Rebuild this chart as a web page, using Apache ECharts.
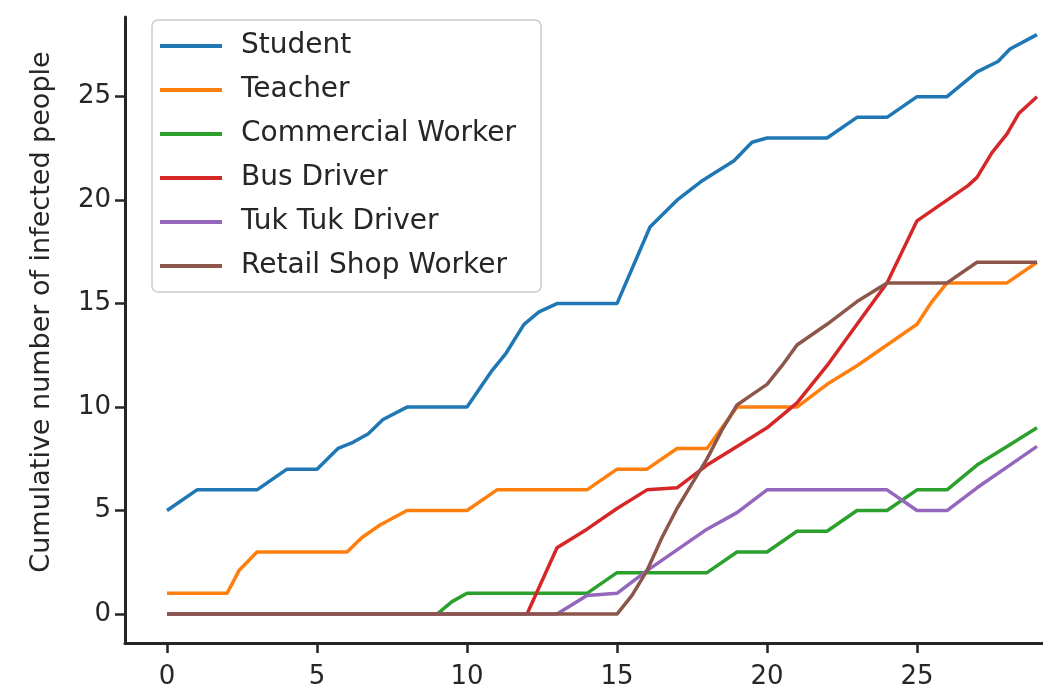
<!DOCTYPE html>
<html>
<head>
<meta charset="utf-8">
<script src="https://cdn.jsdelivr.net/npm/echarts@6/dist/echarts.min.js"></script>
<style>html,body{margin:0;padding:0;background:#fff;}#chart{width:1043px;height:694px;}</style>
</head>
<body>
<div id="chart"></div>
<script>
const seriesNames = ['Student', 'Teacher', 'Commercial Worker', 'Bus Driver', 'Tuk Tuk Driver', 'Retail Shop Worker'];
const xTicks = [0, 5, 10, 15, 20, 25];
const yTicks = [0, 5, 10, 15, 20, 25];

const student = [[0,5],[1,6],[2,6],[3,6],[4,7],[5,7],[5.7,8],[6.2,8.3],[6.7,8.7],[7.2,9.4],[8,10],[9,10],[10,10],[10.8,11.7],[11.3,12.6],[11.9,14],[12.4,14.6],[13,15],[14,15],[15,15],[16.1,18.7],[17,20],[17.8,20.9],[18.9,21.9],[19.5,22.8],[20,23],[21,23],[22,23],[23,24],[24,24],[25,25],[26,25],[27,26.2],[27.7,26.7],[28.1,27.3],[29,28]];
const teacher = [[0,1],[1,1],[2,1],[2.4,2.1],[3,3],[4,3],[5,3],[6,3],[6.5,3.7],[7.1,4.3],[8,5],[9,5],[10,5],[11,6],[12,6],[13,6],[14,6],[15,7],[16,7],[17,8],[18,8],[18.6,9.2],[19,10],[20,10],[21,10],[22,11.1],[23,12],[24,13],[25,14],[25.5,15.1],[26,16],[27,16],[28,16],[29,17]];
const commercial = [[0,0],[9,0],[9.5,0.6],[10,1],[11,1],[12,1],[13,1],[14,1],[15,2],[16,2],[17,2],[18,2],[19,3],[20,3],[21,4],[22,4],[23,5],[24,5],[25,6],[26,6],[27,7.2],[28,8.1],[29,9]];
const busDriver = [[0,0],[12,0],[13,3.2],[14,4.1],[15,5.1],[16,6],[17,6.1],[18,7.2],[19,8.1],[20,9],[20.5,9.6],[21,10.2],[22,12],[23,14],[24,16],[25,19],[26,20],[26.7,20.7],[27,21.1],[27.5,22.3],[28,23.2],[28.4,24.2],[29,25]];
const tukTuk = [[0,0],[13,0],[14,0.9],[15,1],[16,2.1],[17,3.1],[18,4.1],[19,4.9],[20,6],[21,6],[22,6],[23,6],[24,6],[25,5],[26,5],[27,6.1],[28,7.1],[29,8.1]];
const retail = [[0,0],[15,0],[15.5,0.9],[16,2.1],[16.5,3.7],[17,5.1],[17.5,6.3],[18,7.5],[18.5,8.9],[19,10.1],[19.5,10.6],[20,11.1],[20.5,12],[21,13],[22,14],[23,15.1],[24,16],[25,16],[26,16],[27,17],[28,17],[29,17]];

const seriesData = [student, teacher, commercial, busDriver, tukTuk, retail];
const colors = ['#1f77b4', '#ff7f0e', '#2ca02c', '#d62728', '#9467bd', '#8c564b'];

const chart = echarts.init(document.getElementById('chart'), null, {renderer: 'canvas'});
const font = 'DejaVu Sans';
const axisCol = '#262626';

chart.setOption({
  backgroundColor: '#ffffff',
  animation: false,
  color: colors,
  grid: {left: 125, right: 0, top: 17, bottom: 51},
  xAxis: {
    type: 'value', min: -1.4, max: 29.2,
    splitLine: {show: false},
    axisLine: {show: true, onZero: false, lineStyle: {color: axisCol, width: 3}},
    axisTick: {show: true, customValues: xTicks, length: 10, lineStyle: {color: axisCol, width: 2.5}},
    axisLabel: {customValues: xTicks, color: '#262626', fontFamily: font, fontSize: 26, margin: 21}
  },
  yAxis: {
    type: 'value', min: -1.4, max: 28.85,
    splitLine: {show: false},
    axisLine: {show: true, onZero: false, lineStyle: {color: axisCol, width: 3}},
    axisTick: {show: true, customValues: yTicks, length: 10, lineStyle: {color: axisCol, width: 2.5}},
    axisLabel: {customValues: yTicks, color: '#262626', fontFamily: font, fontSize: 26, margin: 14}
  },
  legend: {
    show: true, orient: 'vertical', left: 152, top: 20,
    data: seriesNames,
    icon: 'rect',
    itemWidth: 62, itemHeight: 4, itemGap: 10,
    padding: [9, 25, 9, 8],
    borderColor: '#cccccc', borderWidth: 1.5, borderRadius: 6,
    backgroundColor: 'rgba(255,255,255,0.85)',
    textStyle: {fontFamily: font, fontSize: 28, color: '#262626', lineHeight: 34, padding: [0, 0, 0, 14]}
  },
  graphic: [{
    type: 'text', x: 42, y: 312, rotation: Math.PI / 2,
    style: {text: 'Cumulative number of infected people', fontFamily: font, fontSize: 27, fill: '#262626', align: 'center', verticalAlign: 'middle'}
  }],
  series: seriesNames.map((n, i) => ({
    name: n, type: 'line', data: seriesData[i], symbol: 'none', smooth: false,
    lineStyle: {width: 3.5, color: colors[i]}, itemStyle: {color: colors[i]},
    z: 2 + i
  }))
});
</script>
</body>
</html>
